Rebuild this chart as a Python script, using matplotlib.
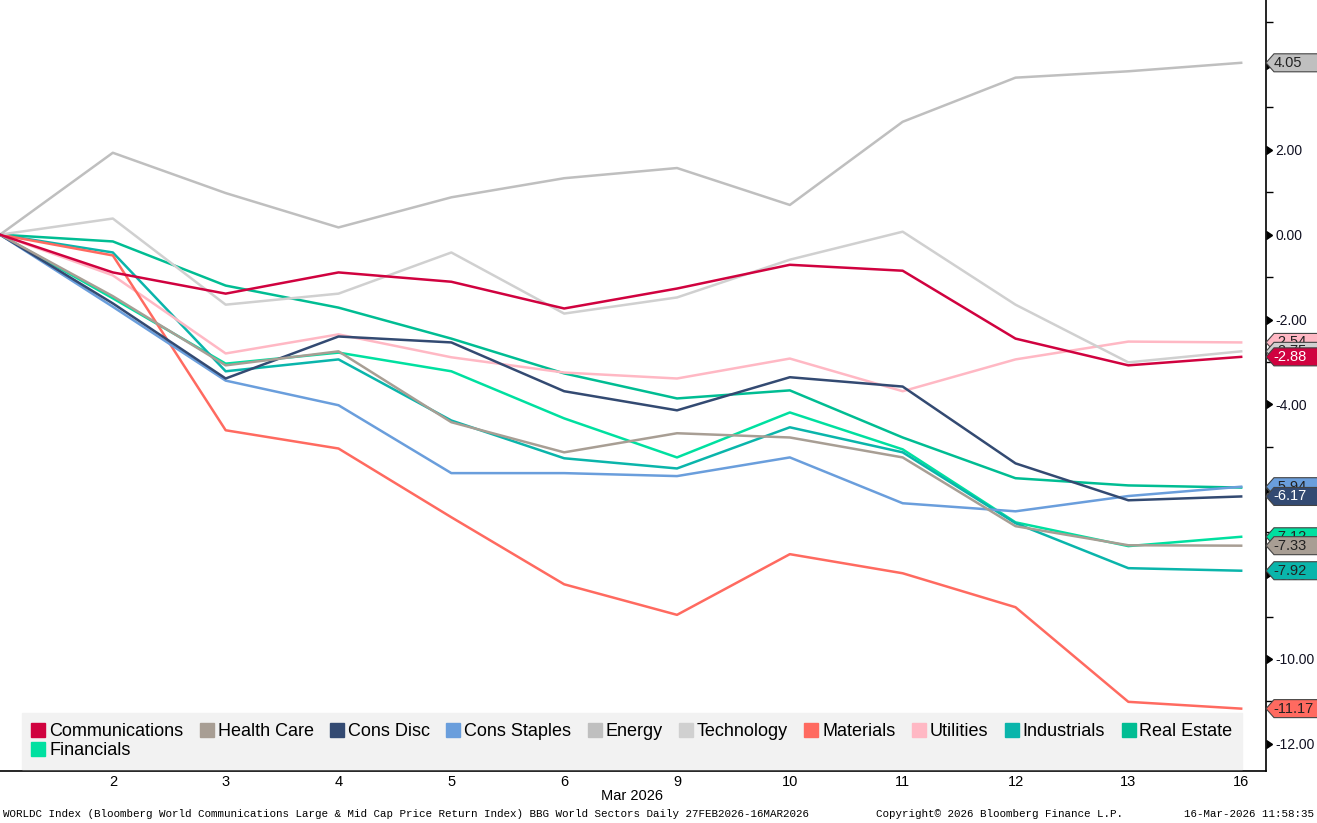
import matplotlib
matplotlib.use('Agg')
import matplotlib.pyplot as plt
import matplotlib.transforms as mtransforms
from matplotlib.patches import Polygon
from matplotlib.lines import Line2D
import numpy as np

plt.rcParams['font.family'] = ['Liberation Sans', 'DejaVu Sans']
plt.rcParams['axes.unicode_minus'] = False

# trading days 27 Feb 2026 .. 16 Mar 2026
day_labels = ['27', '2', '3', '4', '5', '6', '9', '10', '11', '12', '13', '16']

names = ['Communications', 'Health Care', 'Cons Disc', 'Cons Staples', 'Energy',
         'Technology', 'Materials', 'Utilities', 'Industrials', 'Real Estate',
         'Financials']
colors = ['#d0023f', '#a89e94', '#334a72', '#6a9edc', '#bfbfbf',
          '#d0d0d0', '#ff6a60', '#ffb8c4', '#0ab5ab', '#00bd93', '#00e0a0']

communications = [0, -0.89, -1.39, -0.89, -1.11, -1.74, -1.27, -0.71, -0.85, -2.45, -3.08, -2.88]
health_care = [0, -1.45, -3.08, -2.75, -4.42, -5.13, -4.68, -4.78, -5.25, -6.87, -7.32, -7.33]
cons_disc = [0, -1.62, -3.39, -2.40, -2.54, -3.69, -4.14, -3.36, -3.58, -5.39, -6.26, -6.17]
cons_staples = [0, -1.70, -3.44, -4.02, -5.62, -5.62, -5.69, -5.25, -6.33, -6.52, -6.16, -5.94]
energy = [0, 1.93, 0.98, 0.17, 0.88, 1.33, 1.57, 0.70, 2.66, 3.70, 3.85, 4.05]
technology = [0, 0.38, -1.65, -1.39, -0.42, -1.86, -1.48, -0.59, 0.07, -1.65, -3.01, -2.75]
materials = [0, -0.49, -4.61, -5.04, -6.66, -8.24, -8.96, -7.53, -7.98, -8.78, -11.01, -11.17]
utilities = [0, -0.96, -2.80, -2.35, -2.89, -3.25, -3.39, -2.92, -3.69, -2.94, -2.52, -2.54]
industrials = [0, -0.42, -3.22, -2.94, -4.38, -5.27, -5.51, -4.54, -5.13, -6.80, -7.86, -7.92]
real_estate = [0, -0.16, -1.20, -1.72, -2.45, -3.27, -3.86, -3.67, -4.78, -5.74, -5.91, -5.96]
financials = [0, -1.50, -3.04, -2.78, -3.22, -4.33, -5.25, -4.19, -5.06, -6.78, -7.34, -7.12]

series = [communications, health_care, cons_disc, cons_staples, energy, technology,
          materials, utilities, industrials, real_estate, financials]
# tag text colour (white on dark tags)
tag_text = ['white', '#222222', 'white', '#222222', '#222222', '#222222',
            '#222222', '#222222', '#222222', '#222222', '#222222']

fig = plt.figure(figsize=(13.17, 8.23), dpi=100)
ax = fig.add_axes([0, 52 / 823, 1266 / 1317, 771 / 823])

x = np.arange(len(day_labels))
# first series drawn last (on top), like the terminal
for i in reversed(range(len(series))):
    ax.plot(x, series[i], color=colors[i], lw=1.8, zorder=3 + (len(series) - i) * 0.01)

ax.set_xlim(0, 11.22)
ax.set_ylim(-12.64, 5.53)

for side in ['left', 'top']:
    ax.spines[side].set_visible(False)
ax.spines['right'].set_color('black')
ax.spines['bottom'].set_color('black')
ax.spines['right'].set_linewidth(1.2)
ax.spines['bottom'].set_linewidth(1.2)

# x axis
ax.set_xticks(x[1:])
ax.set_xticklabels(day_labels[1:], fontsize=10.5)
ax.tick_params(axis='x', length=0, pad=3)

# y axis on the right
major = np.arange(-12, 5, 2)
ax.yaxis.tick_right()
ax.set_yticks(major)
ax.set_yticklabels(['%.2f' % v for v in major], fontsize=10, color='#111122')
ax.set_yticks(np.arange(-11, 6, 2), minor=True)
ax.tick_params(axis='y', which='major', length=0, pad=7)
ax.tick_params(axis='y', which='minor', length=5, width=1, color='black')

blend = mtransforms.blended_transform_factory(ax.transAxes, ax.transData)
ax.plot(np.ones(len(major)), major, ls='none', marker=9, ms=6, color='black',
        transform=blend, clip_on=False, zorder=6)

# value tags on the right axis
for i in reversed(range(len(series))):
    val = series[i][-1]
    tr = fig.dpi_scale_trans + mtransforms.ScaledTranslation(1.0, val, blend)
    pts = np.array([[0, 0], [8, 9], [53, 9], [53, -9], [8, -9]]) / 100.0
    poly = Polygon(pts, closed=True, transform=tr, facecolor=colors[i],
                   edgecolor='#444444', lw=0.8, clip_on=False, zorder=10 + (len(series) - i))
    fig.add_artist(poly)
    fig.text(0.075, 0, '%.2f' % val, transform=tr, ha='left', va='center',
             fontsize=10.5, color=tag_text[i], zorder=10.5 + (len(series) - i))

# legend: first column holds Communications and Financials
order = [0, 10] + list(range(1, 10))
handles = [Line2D([], [], ls='none', marker='s', ms=10, color=colors[k]) for k in order]
labels = [names[k] for k in order]
leg = ax.legend(handles, labels, ncol=10, loc='lower left',
                bbox_to_anchor=(22 / 1266, 2 / 771), fontsize=13,
                frameon=True, fancybox=False, handlelength=0.7, handletextpad=0.25,
                columnspacing=0.95, labelspacing=0.1, borderpad=0.55,
                borderaxespad=0)
leg.get_frame().set_facecolor('#f2f2f2')
leg.get_frame().set_edgecolor('#f2f2f2')
leg.get_frame().set_alpha(1)
leg.set_zorder(8)

# labels under the chart
fig.text(632 / 1317, 1 - 796 / 823, 'Mar 2026', ha='center', va='center', fontsize=10.5)
mono = ['Liberation Mono', 'DejaVu Sans Mono']
fig.text(3 / 1317, 1 - 814 / 823,
         'WORLDC Index (Bloomberg World Communications Large & Mid Cap Price Return Index) '
         'BBG World Sectors Daily 27FEB2026-16MAR2026',
         ha='left', va='center', fontsize=7.8, family=mono)
fig.text(876 / 1317, 1 - 814 / 823, 'Copyright\u00a9 2026 Bloomberg Finance L.P.',
         ha='left', va='center', fontsize=7.8, family=mono)
fig.text(1314 / 1317, 1 - 814 / 823, '16-Mar-2026 11:58:35',
         ha='right', va='center', fontsize=7.8, family=mono)

fig.savefig('out.png', dpi=100)
